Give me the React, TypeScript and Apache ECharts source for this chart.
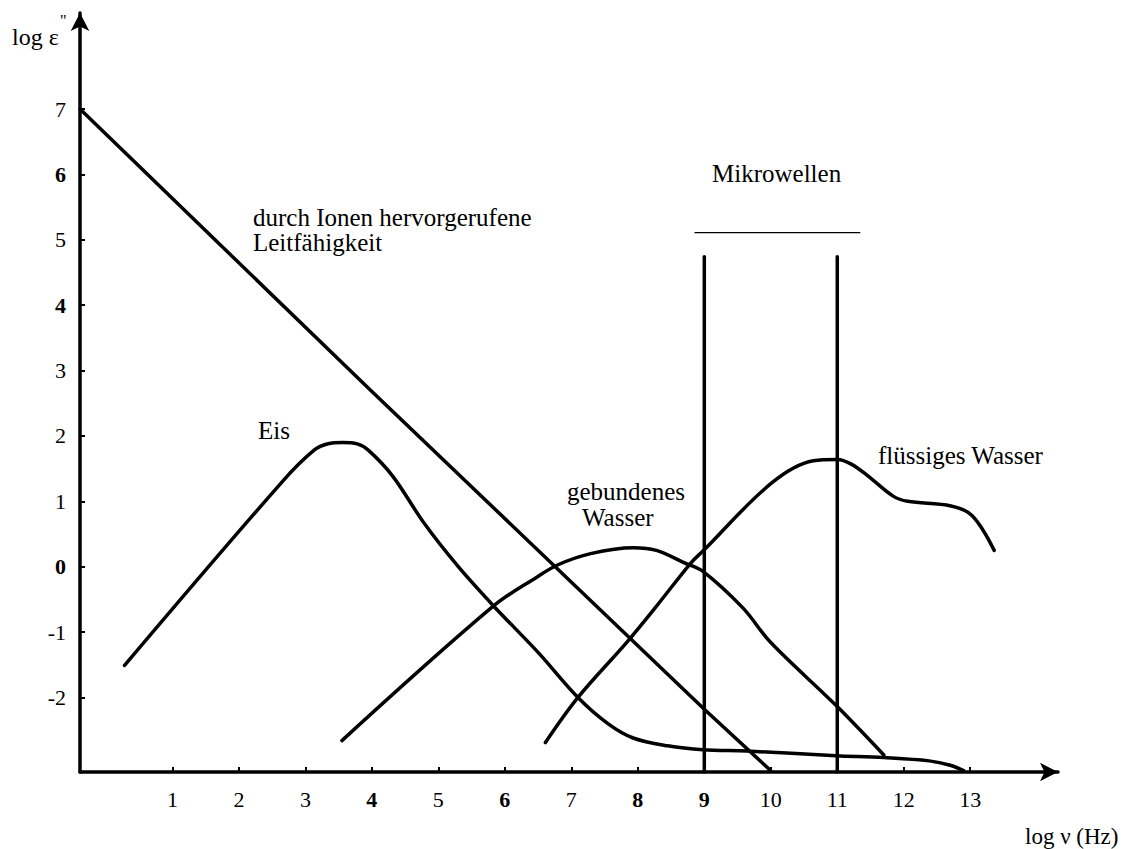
import React, { useEffect, useRef } from "react";
import * as echarts from "echarts";

// Axis ranges and tick labels
const X_MIN = -0.39;
const X_MAX = 14.32;
const Y_MIN = -3.14;
const Y_MAX = 8.47;
const xTicks = [1, 2, 3, 4, 5, 6, 7, 8, 9, 10, 11, 12, 13];
const yTicks = [-2, -1, 0, 1, 2, 3, 4, 5, 6, 7];
const xBoldTicks = [4, 6, 8, 9];
const yBoldTicks = [0, 4, 6];

// Curves: [log ν, log ε'']
const conductivity = [
  [-0.39, 7.0], [4.0, 2.68], [9.0, -2.18], [10.0, -3.12],
];
const ice = [
  [0.28, -1.51], [2.66, 1.31], [3.14, 1.79], [3.34, 1.88], [3.56, 1.9], [3.78, 1.88],
  [3.95, 1.78], [4.31, 1.39], [4.79, 0.66], [5.3, 0.0], [5.83, -0.6], [6.5, -1.31],
  [7.1, -2.0], [7.55, -2.4], [7.93, -2.62], [8.45, -2.74], [8.98, -2.8], [9.64, -2.82],
  [10.98, -2.89], [11.7, -2.92], [12.38, -2.97], [12.71, -3.04], [12.9, -3.12],
];
const boundWater = [
  [3.55, -2.66], [5.83, -0.6], [6.48, -0.16], [6.8, 0.03], [7.29, 0.2], [7.93, 0.29],
  [8.28, 0.25], [8.7, 0.06], [8.98, -0.07], [9.58, -0.63], [10.0, -1.16],
  [10.98, -2.12], [11.7, -2.88],
];
const liquidWater = [
  [6.61, -2.69], [7.1, -2.0], [7.83, -1.16], [8.26, -0.63], [8.8, 0.06], [8.98, 0.24],
  [10.0, 1.27], [10.64, 1.62], [11.0, 1.64], [11.21, 1.57], [11.46, 1.39], [11.84, 1.08],
  [12.06, 1.0], [12.71, 0.93], [13.03, 0.78], [13.36, 0.25],
];
// Microwave band markers
const microLeft = [[9, Y_MIN], [9, 4.74]];
const microRight = [[11, Y_MIN], [11, 4.74]];
const microBar = [[8.86, 5.11], [11.34, 5.11]];

const FONT = "Liberation Serif";

export default function App() {
  const ref = useRef<HTMLDivElement>(null);
  useEffect(() => {
    document.body.style.margin = "0";
    const chart = echarts.init(ref.current!, null, { renderer: "svg" });
    const lineSeries = (data: number[][], width: number, smooth: number | boolean) => ({
      type: "line",
      data,
      symbol: "none",
      smooth,
      silent: true,
      lineStyle: { color: "#000", width, cap: "round", join: "round" },
      itemStyle: { color: "#000" },
    });
    const txt = (text: string, x: number, y: number, size = 25) => ({
      type: "text",
      x,
      y,
      style: {
        text,
        fill: "#000",
        fontFamily: FONT,
        fontSize: size,
        verticalAlign: "middle",
      },
    });
    const rich = {
      n: { color: "#000", fontSize: 22, fontFamily: FONT },
      b: { color: "#000", fontSize: 22, fontFamily: FONT, fontWeight: "bold" },
    };
    chart.setOption({
      animation: false,
      backgroundColor: "#fff",
      grid: { left: 80, right: 67, top: 13, bottom: 77, containLabel: false, outerBoundsMode: "none" },
      xAxis: {
        type: "value",
        min: X_MIN,
        max: X_MAX,
        axisLine: {
          show: true,
          onZero: false,
          symbol: ["none", "arrow"],
          symbolSize: [14, 18],
          lineStyle: { color: "#000", width: 3.5 },
        },
        axisTick: { show: true, inside: true, length: 5, lineStyle: { color: "#000", width: 2 }, customValues: xTicks },
        axisLabel: {
          customValues: xTicks,
          margin: 16,
          formatter: (v: number) => (xBoldTicks.includes(v) ? `{b|${v}}` : `{n|${v}}`),
          rich,
        },
        splitLine: { show: false },
      },
      yAxis: {
        type: "value",
        min: Y_MIN,
        max: Y_MAX,
        axisLine: {
          show: true,
          onZero: false,
          symbol: ["none", "arrow"],
          symbolSize: [14, 18],
          lineStyle: { color: "#000", width: 3.5 },
        },
        axisTick: { show: true, inside: true, length: 5, lineStyle: { color: "#000", width: 2 }, customValues: yTicks },
        axisLabel: {
          customValues: yTicks,
          margin: 14,
          formatter: (v: number) => (yBoldTicks.includes(v) ? `{b|${v}}` : `{n|${v}}`),
          rich,
        },
        splitLine: { show: false },
      },
      series: [
        lineSeries(conductivity, 3.5, false),
        lineSeries(ice, 3.5, 0.35),
        lineSeries(boundWater, 3.5, 0.35),
        lineSeries(liquidWater, 3.5, 0.35),
        lineSeries(microLeft, 3.5, false),
        lineSeries(microRight, 3.5, false),
        lineSeries(microBar, 1.2, false),
      ],
      graphic: [
        txt("log ε", 12, 37, 24),
        txt("\"", 60, 20, 16),
        txt("log ν (Hz)", 1025, 836, 23),
        txt("durch Ionen hervorgerufene", 253, 217),
        txt("Leitfähigkeit", 253, 242),
        txt("Eis", 258, 430),
        txt("gebundenes", 567, 491),
        txt("Wasser", 582, 517),
        txt("flüssiges Wasser", 878, 455),
        txt("Mikrowellen", 712, 173),
      ],
    });
    return () => chart.dispose();
  }, []);
  return <div ref={ref} style={{ width: 1125, height: 849 }} />;
}
